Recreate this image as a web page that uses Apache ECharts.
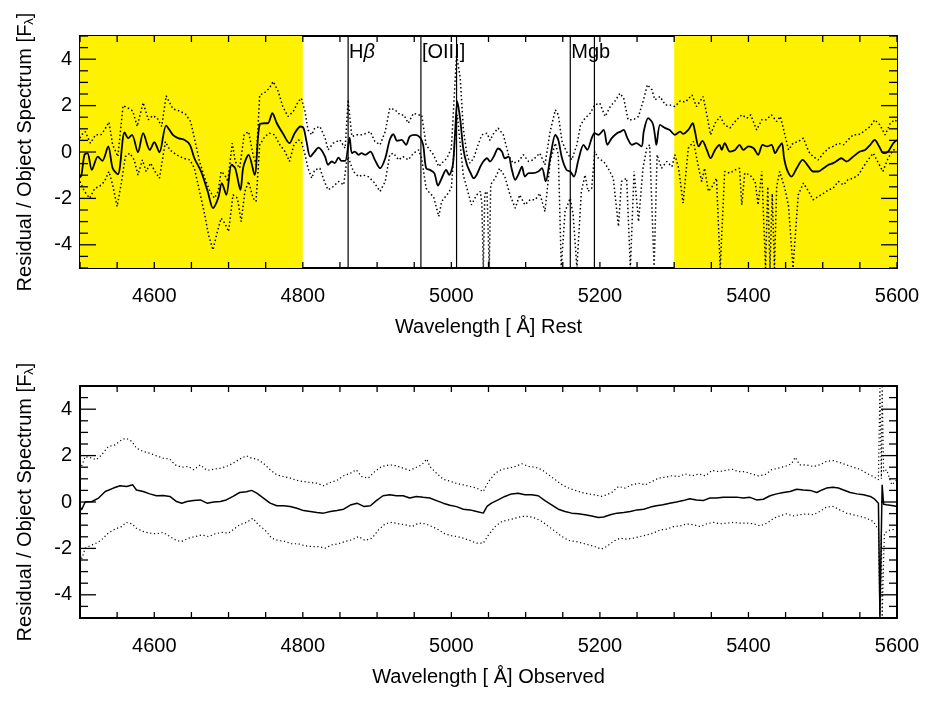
<!DOCTYPE html>
<html>
<head>
<meta charset="utf-8">
<title>Residual spectrum</title>
<script src="https://cdn.jsdelivr.net/npm/echarts@6/dist/echarts.min.js"></script>
<style>
    html, body { margin: 0; padding: 0; background: #fff; }
    #chart { width: 927px; height: 703px; }
</style>
</head>
<body>
<div id="chart"></div>
<script>
'use strict';

// ---- data: [wavelength (A), residual / object] ----

// top panel, rest frame
var restSolid = [[4500,-1.1],[4502,-0.99],[4506,-0.12],[4510,-0.05],[4516,-0.77],[4524,-0.2],[4530,-0.38],[4538,0.24],[4544,-0.7],[4551,-0.96],[4560,0.85],[4565,0.6],[4570,0.74],[4578,-0.01],[4585,0.81],[4594,0.09],[4600,0.42],[4607,-0.01],[4616,1.14],[4625,0.74],[4632,0.6],[4641,0.52],[4648,0.31],[4654,-0.27],[4663,-0.84],[4672,-1.7],[4679,-2.42],[4686,-1.99],[4691,-1.34],[4697,-1.85],[4704,-0.55],[4709,-0.7],[4716,-1.63],[4720,-0.63],[4727,-0.12],[4735,-0.99],[4742,1.2],[4749,1.24],[4753,1.24],[4759,1.67],[4765,1.24],[4773,0.81],[4782,0.38],[4789,0.81],[4797,1.1],[4801,1.03],[4805,0.45],[4810,-0.2],[4816,0.02],[4821,0.19],[4825,0.09],[4830,-0.2],[4834,-0.55],[4839,-0.41],[4843,-0.48],[4848,-0.24],[4852,-0.38],[4857,-0.38],[4863,0.62],[4866,-0.05],[4870,0.02],[4875,-0.12],[4879,-0.05],[4884,-0.12],[4891,0.02],[4897,-0.34],[4904,-0.7],[4911,-0.27],[4917,0.52],[4922,0.77],[4927,0.48],[4933,0.52],[4939,0.31],[4944,0.67],[4951,0.74],[4958,0.62],[4962,0.31],[4966,-0.7],[4971,-0.77],[4977,-0.91],[4982,-1.45],[4987,-1.13],[4993,-0.77],[4997,-0.99],[5002,-0.55],[5005,0.81],[5008,2.18],[5012,1.39],[5016,0.16],[5021,-0.55],[5026,-0.91],[5030,-1.13],[5034,-0.99],[5039,-0.63],[5043,-0.41],[5048,-0.27],[5052,-0.41],[5057,-0.2],[5063,0.15],[5068,0.02],[5072,-0.27],[5077,-0.2],[5081,-0.7],[5086,-1.2],[5090,-0.99],[5095,-0.63],[5099,-1.06],[5104,-0.91],[5110,-0.91],[5117,-0.84],[5122,-0.7],[5127,-1.27],[5133,-0.27],[5140,0.74],[5144,0.52],[5149,-0.27],[5155,-0.77],[5160,-0.84],[5165,-1.06],[5171,-0.34],[5178,0.31],[5183,0.09],[5189,0.6],[5193,0.81],[5198,0.74],[5205,0.95],[5210,0.31],[5216,0.6],[5223,0.81],[5228,0.88],[5232,0.95],[5237,0.6],[5243,0.31],[5249,0.38],[5256,0.24],[5259,0.88],[5265,1.46],[5271,1.24],[5274,0.74],[5276,0.31],[5281,1.17],[5288,1.03],[5294,0.95],[5301,0.74],[5308,0.88],[5312,0.78],[5319,0.95],[5325,1.24],[5328,0.88],[5333,0.24],[5338,0.48],[5344,0.09],[5349,-0.27],[5355,0.09],[5361,0.31],[5364,0.09],[5368,0.38],[5375,0.02],[5382,0.09],[5388,0.31],[5393,0.09],[5400,0.24],[5407,0.16],[5413,-0.12],[5419,0.31],[5425,0.24],[5431,0.31],[5436,-0.05],[5440,0.16],[5445,0.38],[5448,-0.27],[5452,-0.77],[5458,-1.06],[5465,-0.7],[5473,-0.34],[5481,-0.63],[5487,-0.84],[5494,-0.84],[5501,-0.7],[5508,-0.55],[5514,-0.48],[5521,-0.34],[5525,-0.27],[5532,-0.41],[5541,-0.2],[5550,0.02],[5557,0.09],[5564,0.31],[5570,0.52],[5576,0.24],[5582,-0.05],[5588,0.02],[5595,0.38],[5600,0.52]];

var restUpper = [[4500,0.6],[4502,0.74],[4507,0.88],[4514,0.38],[4521,0.74],[4528,0.74],[4533,0.95],[4539,1.29],[4544,0.31],[4551,-0.2],[4558,2.0],[4565,1.89],[4571,1.77],[4577,1.1],[4585,2.13],[4592,1.39],[4598,1.57],[4604,1.46],[4610,1.1],[4616,2.42],[4625,1.86],[4634,1.77],[4642,1.63],[4649,1.31],[4654,0.6],[4661,-0.41],[4668,-1.13],[4675,-1.7],[4681,-1.99],[4686,-1.7],[4690,-0.84],[4695,-0.99],[4699,-1.27],[4705,0.38],[4709,-0.41],[4715,-0.7],[4721,0.74],[4727,0.88],[4733,-0.12],[4737,-0.55],[4742,2.46],[4748,2.54],[4755,2.75],[4760,3.04],[4767,2.61],[4773,1.96],[4780,1.53],[4787,1.74],[4794,2.18],[4798,2.32],[4803,1.74],[4807,0.95],[4812,0.74],[4816,1.03],[4823,1.1],[4830,0.6],[4834,0.09],[4841,0.38],[4850,0.52],[4857,0.16],[4861,2.25],[4866,0.67],[4873,0.74],[4879,0.74],[4886,0.81],[4891,0.88],[4897,0.45],[4904,0.31],[4911,0.88],[4917,1.89],[4924,1.82],[4931,1.6],[4936,1.6],[4942,1.24],[4949,1.67],[4956,1.6],[4960,1.6],[4966,0.31],[4971,0.09],[4976,-0.12],[4983,-0.63],[4987,-0.48],[4994,-0.27],[5000,0.16],[5004,2.46],[5007,4.2],[5012,3.18],[5016,1.03],[5021,-0.12],[5025,-0.48],[5030,-0.27],[5036,0.31],[5041,0.74],[5048,0.81],[5052,0.5],[5057,0.8],[5063,1.03],[5070,0.74],[5077,-0.12],[5083,-0.48],[5090,-0.41],[5097,-0.12],[5104,-0.41],[5110,-0.34],[5119,-0.05],[5126,-0.55],[5133,0.88],[5140,1.82],[5144,1.6],[5149,0.45],[5155,0.02],[5162,-0.34],[5169,0.31],[5174,1.17],[5180,1.46],[5187,1.67],[5193,2.03],[5200,2.1],[5207,1.53],[5214,1.96],[5220,2.18],[5227,2.53],[5232,2.32],[5238,1.39],[5245,1.39],[5252,1.53],[5258,2.18],[5264,2.9],[5270,2.68],[5274,2.25],[5281,2.39],[5288,2.03],[5294,2.03],[5301,1.96],[5308,2.2],[5315,2.15],[5324,2.46],[5330,1.96],[5339,2.39],[5344,1.6],[5349,0.74],[5355,1.24],[5362,1.53],[5368,1.17],[5375,1.03],[5384,1.39],[5391,1.6],[5398,1.46],[5403,1.6],[5411,0.95],[5418,1.39],[5424,1.39],[5431,1.6],[5438,1.31],[5443,1.53],[5448,0.88],[5454,0.09],[5460,0.38],[5467,0.45],[5474,0.6],[5481,0.02],[5487,-0.2],[5494,-0.34],[5501,-0.05],[5508,0.16],[5514,0.24],[5521,0.38],[5528,0.31],[5534,0.52],[5541,0.74],[5548,0.74],[5555,0.88],[5564,1.1],[5570,1.39],[5577,1.17],[5584,0.74],[5591,1.24],[5597,1.39],[5600,1.3]];

var restLower = [[4500,-1.27],[4506,-1.7],[4513,-1.99],[4520,-1.56],[4526,-1.49],[4533,-1.27],[4539,-0.84],[4544,-1.42],[4550,-2.35],[4556,-1.27],[4561,-0.2],[4567,-0.05],[4573,-0.34],[4578,-0.99],[4584,-0.34],[4589,-0.84],[4595,-0.48],[4601,-0.84],[4607,-1.13],[4615,0.45],[4621,0.09],[4630,-0.12],[4639,-0.27],[4648,-0.34],[4654,-0.7],[4661,-1.7],[4668,-2.71],[4673,-3.57],[4679,-4.22],[4685,-3.43],[4690,-2.85],[4695,-3.07],[4700,-3.43],[4706,-1.85],[4712,-1.99],[4717,-3.0],[4722,-1.7],[4727,-1.27],[4733,-1.99],[4737,-2.13],[4742,0.31],[4749,0.67],[4755,0.81],[4762,0.74],[4769,0.31],[4776,0.02],[4782,-0.41],[4788,0.31],[4794,0.52],[4798,0.45],[4803,-0.12],[4807,-0.7],[4812,-1.13],[4816,-0.77],[4823,-0.7],[4829,-1.27],[4834,-1.63],[4841,-1.49],[4848,-1.27],[4855,-1.42],[4859,-0.41],[4861,-0.2],[4868,-0.84],[4875,-1.06],[4881,-0.99],[4888,-1.06],[4895,-1.27],[4904,-1.7],[4911,-1.27],[4917,-0.12],[4922,-0.05],[4929,-0.34],[4935,-0.2],[4942,-0.34],[4949,-0.05],[4956,0.09],[4960,-0.27],[4966,-1.56],[4971,-1.78],[4976,-1.92],[4983,-2.78],[4987,-2.13],[4994,-1.85],[5000,-1.56],[5005,0.74],[5008,1.6],[5012,0.31],[5016,-0.99],[5021,-1.56],[5027,-2.28],[5034,-1.85],[5039,-1.7],[5041,-2.2],[5043,-5],[5045,-1.8],[5048,-1.7],[5051,-5],[5053,-1.4],[5059,-1.13],[5065,-0.7],[5072,-1.06],[5079,-1.85],[5086,-2.42],[5092,-1.85],[5099,-2.28],[5106,-2.06],[5113,-2.06],[5119,-1.78],[5126,-2.57],[5133,-0.41],[5140,0.38],[5144,-0.12],[5148,-5],[5153,-2.57],[5160,-1.99],[5164,-2.71],[5169,-5],[5175,-1.7],[5180,-0.99],[5184,-1.7],[5189,-1.56],[5193,0.02],[5198,-0.27],[5205,-0.41],[5211,-0.7],[5218,-1.13],[5225,-3.21],[5229,-1.27],[5236,-1.13],[5241,-5],[5246,-0.84],[5252,-3.0],[5258,-0.7],[5263,0.16],[5267,0.31],[5273,-5],[5277,-0.12],[5283,-0.7],[5290,-0.41],[5297,-0.63],[5301,-0.12],[5306,-0.7],[5312,-2.2],[5319,0.16],[5326,0.45],[5333,-0.7],[5337,-1.27],[5341,-0.7],[5346,-1.7],[5350,-1.56],[5357,-1.13],[5362,-5],[5368,-0.84],[5375,-0.91],[5382,-0.77],[5388,-0.7],[5391,-2.28],[5395,-0.91],[5402,-0.99],[5409,-1.27],[5413,-2.28],[5418,-0.84],[5423,-5],[5426,-1.5],[5429,-5],[5432,-1.8],[5435,-5],[5438,-1.5],[5442,-0.84],[5449,-1.56],[5454,-2.35],[5460,-5],[5467,-1.85],[5474,-1.34],[5481,-1.7],[5487,-2.06],[5494,-1.92],[5501,-1.78],[5508,-1.63],[5514,-1.56],[5521,-1.27],[5528,-1.42],[5534,-1.2],[5541,-1.13],[5548,-0.99],[5555,-0.63],[5561,-0.34],[5568,-0.05],[5575,-0.48],[5581,-0.84],[5588,-0.27],[5595,0.09],[5600,0.1]];

// bottom panel, observed frame
var obsSolid = [[4500,-0.2],[4502,-0.34],[4507,0],[4516,0.02],[4525,0.17],[4534,0.45],[4545,0.6],[4554,0.7],[4563,0.67],[4571,0.74],[4576,0.52],[4585,0.45],[4594,0.35],[4603,0.27],[4612,0.28],[4621,0.24],[4630,0.02],[4637,-0.05],[4644,0.02],[4653,0.06],[4662,0.09],[4671,-0.05],[4680,0],[4689,0.02],[4697,0.09],[4706,0.24],[4715,0.41],[4724,0.44],[4731,0.5],[4738,0.38],[4747,0.17],[4756,-0.05],[4765,-0.16],[4774,-0.16],[4783,-0.19],[4792,-0.27],[4801,-0.37],[4810,-0.41],[4819,-0.45],[4828,-0.48],[4837,-0.41],[4846,-0.37],[4855,-0.31],[4864,-0.13],[4873,-0.05],[4882,-0.19],[4891,-0.16],[4899,0.06],[4908,0.27],[4917,0.31],[4926,0.27],[4935,0.27],[4944,0.17],[4953,0.24],[4962,0.2],[4971,0.17],[4980,0.06],[4989,-0.05],[4998,-0.14],[5007,-0.2],[5016,-0.31],[5025,-0.34],[5034,-0.41],[5043,-0.48],[5048,-0.19],[5054,-0.05],[5063,0.09],[5072,0.24],[5081,0.35],[5090,0.38],[5099,0.31],[5108,0.31],[5117,0.27],[5126,0.06],[5135,-0.12],[5144,-0.31],[5153,-0.41],[5162,-0.48],[5171,-0.51],[5180,-0.55],[5189,-0.6],[5198,-0.67],[5205,-0.65],[5214,-0.55],[5223,-0.48],[5232,-0.45],[5241,-0.41],[5250,-0.34],[5259,-0.31],[5268,-0.22],[5276,-0.16],[5285,-0.12],[5294,-0.05],[5303,0],[5312,0.06],[5321,0.14],[5330,0.09],[5339,0.06],[5348,0.17],[5357,0.17],[5366,0.2],[5375,0.2],[5384,0.21],[5393,0.17],[5402,0.2],[5411,0.09],[5420,0.12],[5429,0.27],[5438,0.35],[5447,0.41],[5456,0.45],[5465,0.55],[5474,0.52],[5483,0.5],[5492,0.41],[5499,0.52],[5505,0.6],[5514,0.64],[5521,0.6],[5528,0.52],[5537,0.41],[5546,0.35],[5555,0.31],[5564,0.24],[5570,0.12],[5575,-0.05],[5577,-4.95],[5579,-4.95],[5580,0.74],[5582,-0.1],[5586,-0.12],[5595,-0.16],[5600,-0.19]];

var obsUpper = [[4500,1.4],[4502,1.53],[4507,1.96],[4516,1.89],[4522,1.82],[4529,2.03],[4538,2.39],[4547,2.46],[4556,2.68],[4562,2.75],[4570,2.61],[4576,2.32],[4585,2.18],[4594,2.1],[4603,1.99],[4612,1.89],[4621,1.85],[4628,1.6],[4637,1.5],[4646,1.53],[4653,1.39],[4662,1.6],[4671,1.36],[4680,1.41],[4689,1.46],[4697,1.53],[4706,1.67],[4715,1.85],[4724,1.99],[4731,1.89],[4738,1.85],[4747,1.67],[4756,1.39],[4765,1.17],[4774,1.1],[4783,1.03],[4792,0.93],[4801,0.88],[4810,0.84],[4819,0.81],[4828,0.7],[4837,0.84],[4846,0.93],[4855,1.13],[4864,1.24],[4872,1.39],[4879,1.1],[4888,1.03],[4897,1.31],[4906,1.53],[4917,1.6],[4926,1.56],[4935,1.46],[4944,1.36],[4953,1.5],[4960,1.6],[4967,1.85],[4971,1.53],[4980,1.24],[4989,0.98],[4998,0.9],[5007,0.8],[5016,0.74],[5025,0.67],[5034,0.6],[5043,0.45],[5050,0.88],[5059,1.24],[5068,1.41],[5077,1.46],[5086,1.53],[5095,1.65],[5104,1.53],[5113,1.5],[5122,1.39],[5131,1.17],[5140,0.96],[5149,0.74],[5158,0.6],[5167,0.5],[5176,0.41],[5185,0.35],[5193,0.31],[5202,0.24],[5209,0.31],[5216,0.41],[5225,0.67],[5234,0.6],[5243,0.74],[5252,0.81],[5261,0.74],[5270,0.88],[5279,1.03],[5288,1.07],[5297,1.13],[5306,1.1],[5315,1.21],[5324,1.13],[5333,1.21],[5342,1.13],[5351,1.36],[5360,1.31],[5369,1.36],[5378,1.41],[5386,1.31],[5395,1.31],[5404,1.21],[5413,1.13],[5422,1.17],[5431,1.39],[5440,1.46],[5449,1.53],[5458,1.65],[5463,1.93],[5469,1.6],[5478,1.6],[5487,1.53],[5496,1.6],[5505,1.75],[5514,1.79],[5523,1.7],[5532,1.6],[5541,1.5],[5550,1.41],[5559,1.24],[5568,1.1],[5575,0.96],[5577,4.9],[5579,1.0],[5580,4.95],[5582,1.3],[5586,1.39],[5593,0.74],[5600,0.96]];

var obsLower = [[4500,-2.2],[4502,-2.49],[4507,-1.99],[4516,-1.85],[4522,-1.77],[4529,-1.63],[4538,-1.34],[4547,-1.17],[4556,-1.06],[4562,-0.88],[4570,-0.94],[4576,-1.13],[4585,-1.27],[4594,-1.34],[4603,-1.37],[4612,-1.31],[4621,-1.49],[4630,-1.66],[4637,-1.7],[4646,-1.56],[4655,-1.49],[4664,-1.42],[4673,-1.49],[4682,-1.37],[4691,-1.31],[4700,-1.34],[4706,-1.2],[4715,-0.98],[4724,-0.88],[4733,-0.7],[4740,-0.98],[4749,-1.2],[4758,-1.56],[4767,-1.66],[4776,-1.7],[4785,-1.8],[4794,-1.8],[4803,-1.89],[4812,-1.92],[4821,-1.92],[4830,-1.99],[4839,-1.85],[4848,-1.8],[4857,-1.7],[4866,-1.63],[4875,-1.49],[4884,-1.66],[4893,-1.56],[4902,-1.2],[4911,-0.94],[4920,-0.88],[4929,-0.94],[4938,-0.98],[4947,-1.06],[4956,-0.91],[4965,-0.94],[4974,-1.06],[4983,-1.2],[4991,-1.37],[5000,-1.45],[5009,-1.5],[5016,-1.56],[5025,-1.66],[5034,-1.77],[5043,-1.77],[5050,-1.42],[5059,-1.06],[5068,-0.84],[5077,-0.77],[5086,-0.7],[5095,-0.62],[5104,-0.62],[5113,-0.7],[5122,-0.84],[5131,-1.06],[5140,-1.27],[5149,-1.49],[5158,-1.66],[5167,-1.7],[5176,-1.77],[5185,-1.85],[5193,-1.92],[5202,-2.03],[5209,-1.92],[5218,-1.7],[5227,-1.56],[5236,-1.6],[5245,-1.56],[5254,-1.49],[5263,-1.42],[5272,-1.34],[5281,-1.2],[5290,-1.17],[5299,-1.06],[5308,-1.03],[5317,-0.94],[5326,-0.98],[5335,-1.06],[5344,-0.94],[5353,-0.88],[5362,-0.94],[5371,-0.91],[5380,-0.88],[5389,-0.91],[5398,-0.91],[5407,-0.94],[5416,-1.03],[5425,-0.91],[5434,-0.7],[5442,-0.6],[5451,-0.51],[5460,-0.6],[5469,-0.55],[5478,-0.51],[5487,-0.55],[5496,-0.41],[5505,-0.22],[5514,-0.19],[5523,-0.34],[5532,-0.48],[5541,-0.55],[5550,-0.62],[5559,-0.7],[5568,-0.84],[5575,-1.2],[5577,-4.95],[5579,-1.3],[5580,-4.95],[5583,-1.34],[5591,-1.2],[5600,-1.17]];

// shaded (excluded) ranges and marked lines in the rest frame
var shadedRanges = [[4500, 4800], [5300, 5600]];
var lineWaves = [4861, 4959, 5007, 5160.1, 5192.6];
var lineNames = ['H{it|β}', '[OIII]', '', 'Mgb', ''];
var lineNameLevel = 4.3;

// axes
var xMin = 4500, xMax = 5600;
var xLabels = [4600, 4800, 5000, 5200, 5400, 5600];
var xTicks = [4500, 4550, 4600, 4650, 4700, 4750, 4800, 4850, 4900, 4950, 5000, 5050,
    5100, 5150, 5200, 5250, 5300, 5350, 5400, 5450, 5500, 5550, 5600];
var yMin = -5, yMax = 5;
var yLabels = [-4, -2, 0, 2, 4];
var yTicks = [-5, -4.5, -4, -3.5, -3, -2.5, -2, -1.5, -1, -0.5, 0,
    0.5, 1, 1.5, 2, 2.5, 3, 3.5, 4, 4.5, 5];

var FONT = '"Liberation Sans", Arial, Helvetica, sans-serif';
var BLACK = '#000';
var X_TICK = 6, Y_MAJOR = 16, Y_MINOR = 8;

function plainNumber(v) {
    return String(v);
}

// x axes of one grid: [bottom with labels and title, top frame line]
function xAxes(grid, title) {
    return [{
        type: 'value', gridIndex: grid, position: 'bottom', min: xMin, max: xMax,
        axisLine: {show: true, onZero: false, lineStyle: {color: BLACK, width: 2}},
        axisTick: {show: false}, splitLine: {show: false},
        axisLabel: {show: true, customValues: xLabels, formatter: plainNumber, margin: 18,
            color: BLACK, fontSize: 20, fontFamily: FONT},
        name: title, nameLocation: 'middle', nameGap: 49,
        nameTextStyle: {color: BLACK, fontSize: 20, fontFamily: FONT}
    }, {
        type: 'value', gridIndex: grid, position: 'top', min: xMin, max: xMax,
        axisLine: {show: true, onZero: false, lineStyle: {color: BLACK, width: 2}},
        axisTick: {show: false}, splitLine: {show: false}, axisLabel: {show: false}
    }];
}

// y axes of one grid: [left with labels and title, right frame line]
function yAxes(grid) {
    return [{
        type: 'value', gridIndex: grid, position: 'left', min: yMin, max: yMax,
        axisLine: {show: true, onZero: false, lineStyle: {color: BLACK, width: 2}},
        axisTick: {show: false}, splitLine: {show: false},
        axisLabel: {show: true, customValues: yLabels, formatter: plainNumber, margin: 8,
            color: BLACK, fontSize: 20, fontFamily: FONT},
        name: 'Residual / Object Spectrum [F{sub|λ}]', nameLocation: 'middle', nameGap: 44,
        nameTextStyle: {
            color: BLACK, fontSize: 20, fontFamily: FONT,
            rich: {sub: {color: BLACK, fontSize: 13, fontFamily: FONT, verticalAlign: 'bottom', padding: [9, 0, 0, 0]}}
        }
    }, {
        type: 'value', gridIndex: grid, position: 'right', min: yMin, max: yMax,
        axisLine: {show: true, onZero: false, lineStyle: {color: BLACK, width: 2}},
        axisTick: {show: false}, splitLine: {show: false}, axisLabel: {show: false}
    }];
}

function tickLine(x1, y1, x2, y2) {
    return {
        type: 'line', shape: {x1: x1, y1: y1, x2: x2, y2: y2},
        style: {stroke: BLACK, lineWidth: 1.3}
    };
}

// inward ticks on the bottom and top frame, placed through the x scale
function xTickItem(params, api) {
    var v = api.value(0);
    var b = api.coord([v, yMin]);
    var t = api.coord([v, yMax]);
    return {
        type: 'group',
        children: [
            tickLine(b[0], b[1], b[0], b[1] - X_TICK),
            tickLine(t[0], t[1], t[0], t[1] + X_TICK)
        ]
    };
}

// inward ticks on the left and right frame, placed through the y scale
function yTickItem(params, api) {
    var v = api.value(1);
    var len = yLabels.indexOf(v) >= 0 ? Y_MAJOR : Y_MINOR;
    var l = api.coord([xMin, v]);
    var r = api.coord([xMax, v]);
    return {
        type: 'group',
        children: [
            tickLine(l[0], l[1], l[0] + len, l[1]),
            tickLine(r[0], r[1], r[0] - len, r[1])
        ]
    };
}

function tickSeries(xi, yi) {
    return [{
        name: 'x ticks', type: 'custom', xAxisIndex: xi, yAxisIndex: yi, z: 10, silent: true, clip: false,
        data: xTicks.map(function (v) { return [v, yMin]; }),
        renderItem: xTickItem
    }, {
        name: 'y ticks', type: 'custom', xAxisIndex: xi, yAxisIndex: yi, z: 10, silent: true, clip: false,
        data: yTicks.map(function (v) { return [xMin, v]; }),
        renderItem: yTickItem
    }];
}

function spectrum(name, data, xi, yi, width, dash, smooth) {
    return {
        name: name, type: 'line', xAxisIndex: xi, yAxisIndex: yi, data: data,
        showSymbol: false, symbol: 'none', z: 3, smooth: smooth,
        lineStyle: {color: BLACK, width: width, type: dash}
    };
}

// yellow band: a flat line at the top of the axis, filled down to the axis start
function band(range) {
    return {
        name: 'band', type: 'line', xAxisIndex: 0, yAxisIndex: 0, z: 1, silent: true,
        showSymbol: false, symbol: 'none',
        data: [[range[0], yMax], [range[1], yMax]],
        lineStyle: {width: 0, color: '#fff200'},
        areaStyle: {color: '#fff200', opacity: 1, origin: 'start'}
    };
}

// vertical line at one wavelength; a named line ends at the label level
function marker(w, i) {
    var name = lineNames[i];
    var data = [[w, yMin], [w, yMax]];
    if (name) {
        data.push([w, lineNameLevel]);
    }
    return {
        name: 'line ' + w, type: 'line', xAxisIndex: 0, yAxisIndex: 0, z: 2, silent: true,
        showSymbol: false, symbol: 'none', data: data,
        lineStyle: {color: BLACK, width: 1.2},
        endLabel: {
            show: !!name, formatter: name, distance: 1,
            color: BLACK, fontSize: 20, fontFamily: FONT,
            rich: {it: {color: BLACK, fontSize: 20, fontFamily: FONT, fontStyle: 'italic'}}
        }
    };
}

var chart = echarts.init(document.getElementById('chart'), null, {renderer: 'canvas'});

var option = {
    animation: false,
    backgroundColor: '#fff',
    grid: [
        {left: 80, top: 36, width: 817, height: 232},
        {left: 80, top: 386, width: 817, height: 232}
    ],
    xAxis: xAxes(0, 'Wavelength [ Å] Rest').concat(xAxes(1, 'Wavelength [ Å] Observed')),
    yAxis: yAxes(0).concat(yAxes(1)),
    series: shadedRanges.map(band)
        .concat(lineWaves.map(marker))
        .concat([
            spectrum('rest upper', restUpper, 0, 0, 1.5, [1.5, 2.5], false),
            spectrum('rest lower', restLower, 0, 0, 1.5, [1.5, 2.5], false),
            spectrum('rest residual', restSolid, 0, 0, 1.8, 'solid', 0.3),
            spectrum('obs upper', obsUpper, 2, 2, 1.2, [1.2, 2.6], false),
            spectrum('obs lower', obsLower, 2, 2, 1.2, [1.2, 2.6], false),
            spectrum('obs residual', obsSolid, 2, 2, 1.5, 'solid', false)
        ])
        .concat(tickSeries(0, 0))
        .concat(tickSeries(2, 2))
};

chart.setOption(option);
</script>
</body>
</html>
